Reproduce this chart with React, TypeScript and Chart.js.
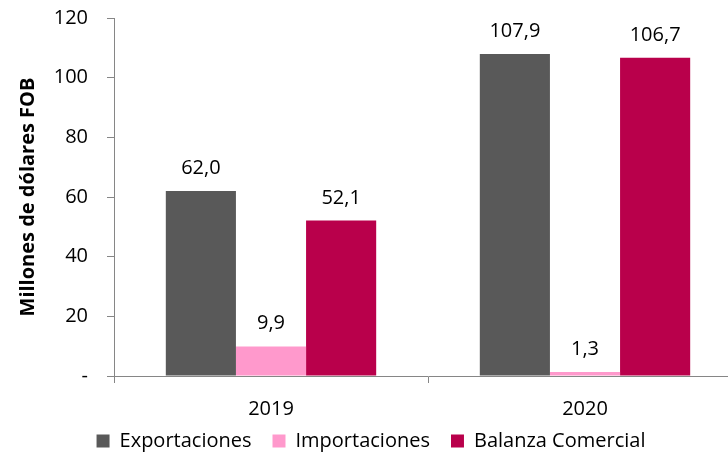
import React, { useEffect, useRef } from 'react';
import { Chart, registerables } from 'chart.js';

Chart.register(...registerables);

const categories = ['2019', '2020'];
const seriesNames = ['Exportaciones', 'Importaciones', 'Balanza Comercial'];
const exportaciones = [62.0, 107.9];
const importaciones = [9.9, 1.3];
const balanza = [52.1, 106.7];
const yTickValues = [0, 20, 40, 60, 80, 100, 120];
const seriesColors = ['#595959', '#FF99CC', '#B9004B'];

const FONT = "'Open Sans', 'Noto Sans', sans-serif";
const AXIS = '#868686';
const LEGEND_SHIFT = 12;

const fmt = (v: number) => v.toFixed(1).replace('.', ',');

const dataLabels = {
  id: 'dataLabels',
  afterLayout(chart: any) {
    if (chart.legend) {
      chart.legend.top -= LEGEND_SHIFT;
      chart.legend.bottom -= LEGEND_SHIFT;
    }
  },
  afterDatasetsDraw(chart: any) {
    const ctx = chart.ctx;
    ctx.save();
    ctx.font = `20px ${FONT}`;
    ctx.fillStyle = '#000';
    ctx.textAlign = 'center';
    ctx.textBaseline = 'alphabetic';
    chart.data.datasets.forEach((ds: any, i: number) => {
      const meta = chart.getDatasetMeta(i);
      meta.data.forEach((bar: any, j: number) => {
        ctx.fillText(fmt(ds.data[j]), bar.x, bar.y - 17);
      });
    });
    ctx.restore();
  },
};

export default function App() {
  const ref = useRef<HTMLCanvasElement | null>(null);

  useEffect(() => {
    if (!ref.current) return;
    const chart = new Chart(ref.current, {
      type: 'bar',
      data: {
        labels: categories,
        datasets: [
          { label: seriesNames[0], data: exportaciones, backgroundColor: seriesColors[0] },
          { label: seriesNames[1], data: importaciones, backgroundColor: seriesColors[1] },
          { label: seriesNames[2], data: balanza, backgroundColor: seriesColors[2] },
        ],
      },
      options: {
        responsive: false,
        animation: false,
        layout: { padding: { left: 0, right: 12, top: 18, bottom: -20 } },
        datasets: { bar: { categoryPercentage: 0.67, barPercentage: 1 } },
        plugins: {
          legend: {
            position: 'bottom',
            labels: {
              boxWidth: 13,
              boxHeight: 13,
              padding: 21,
              color: '#000',
              font: { family: FONT, size: 20 },
            },
          },
          tooltip: { enabled: false },
        },
        scales: {
          x: {
            type: 'category',
            grid: { offset: true, drawOnChartArea: false, drawTicks: true, tickLength: 7, color: AXIS },
            border: { color: AXIS, width: 1 },
            ticks: { color: '#000', font: { family: FONT, size: 20 }, padding: 14 },
            afterFit: (s: any) => { s.height = 46; },
          },
          y: {
            min: 0,
            max: 120,
            afterBuildTicks: (s: any) => { s.ticks = yTickValues.map((v) => ({ value: v })); },
            grid: { drawOnChartArea: false, drawTicks: true, tickLength: 7, color: AXIS },
            border: { color: AXIS, width: 1 },
            ticks: {
              color: '#000',
              font: { family: FONT, size: 20 },
              padding: 19,
              callback: (v: any) => (Number(v) === 0 ? '-' : String(v)),
            },
            title: {
              display: true,
              text: 'Millones de dólares FOB',
              color: '#000',
              font: { family: FONT, size: 20, weight: 'bold' },
              padding: { top: 16, bottom: 0 },
            },
            afterFit: (s: any) => {
              s.width = 114;
              s.paddingTop = 0;
              s.paddingBottom = 0;
            },
          },
        },
      },
      plugins: [dataLabels],
    });
    return () => chart.destroy();
  }, []);

  return (
    <div style={{ position: 'absolute', left: 0, top: 0, width: 728, height: 453, overflow: 'hidden', background: '#fff' }}>
      <canvas ref={ref} width={754} height={453} style={{ width: 754, height: 453, display: 'block' }} />
    </div>
  );
}
